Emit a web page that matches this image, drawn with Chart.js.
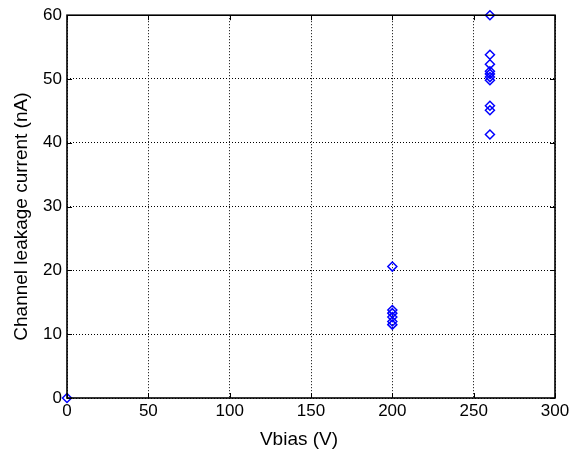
<!DOCTYPE html>
<html>
<head>
<meta charset="utf-8">
<script src="https://cdn.jsdelivr.net/npm/chart.js@4"></script>
<style>
  html, body { margin: 0; padding: 0; background: #fff; }
  #wrap { width: 585px; height: 453px; }
</style>
</head>
<body>
<div id="wrap"><canvas id="leak"></canvas></div>
<script>
// bias voltage (V) and channel leakage current (nA)
const vbias0 = [0];
const leak0 = [0];
const vbias200 = [200, 200, 200, 200, 200, 200];
const leak200 = [20.6, 13.8, 13.3, 12.7, 12.0, 11.5];
const vbias260 = [260, 260, 260, 260, 260, 260, 260, 260, 260, 260];
const leak260 = [60, 53.8, 52.3, 51.2, 50.8, 50.3, 49.8, 45.8, 45.1, 41.3];

const xTicks = [0, 50, 100, 150, 200, 250, 300];
const yTicks = [0, 10, 20, 30, 40, 50, 60];

const xTitle = 'Vbias (V)';
const yTitle = 'Channel leakage current (nA)';

function toPts(xs, ys) {
  return xs.map((x, i) => ({ x: x, y: ys[i] }));
}
const allPts = toPts(vbias0, leak0)
  .concat(toPts(vbias200, leak200))
  .concat(toPts(vbias260, leak260));

const fontFam = '"Liberation Sans", Arial, sans-serif';

// box around the axes, little inward ticks like matlab, and the axis labels
const boxPlugin = {
  id: 'boxPlugin',
  afterDraw(chart) {
    const { ctx, chartArea: a, scales } = chart;
    ctx.save();
    ctx.strokeStyle = '#000';
    ctx.lineWidth = 1;
    ctx.setLineDash([]);
    ctx.beginPath();
    xTicks.forEach(t => {
      const px = Math.round(scales.x.getPixelForValue(t)) + 0.5;
      ctx.moveTo(px, a.bottom); ctx.lineTo(px, a.bottom - 5);
      ctx.moveTo(px, a.top); ctx.lineTo(px, a.top + 5);
    });
    yTicks.forEach(t => {
      const py = Math.round(scales.y.getPixelForValue(t)) + 0.5;
      ctx.moveTo(a.left, py); ctx.lineTo(a.left + 5, py);
      ctx.moveTo(a.right, py); ctx.lineTo(a.right - 5, py);
    });
    ctx.stroke();
    ctx.lineWidth = 1.6;
    ctx.strokeRect(a.left, a.top, a.right - a.left, a.bottom - a.top);

    ctx.fillStyle = '#000';
    ctx.font = '19px ' + fontFam;
    ctx.textAlign = 'center';
    ctx.textBaseline = 'middle';
    ctx.fillText(xTitle, (a.left + a.right) / 2 - 12, 440);
    ctx.translate(22, (a.top + a.bottom) / 2 + 10);
    ctx.rotate(-Math.PI / 2);
    ctx.fillText(yTitle, 0, 0);
    ctx.restore();
  }
};

new Chart(document.getElementById('leak'), {
  type: 'scatter',
  data: {
    datasets: [{
      label: 'leakage',
      data: allPts,
      pointStyle: 'rectRot',
      pointRadius: 4.5,
      pointBorderWidth: 1.5,
      borderColor: '#0000ff',
      backgroundColor: 'rgba(0,0,0,0)'
    }]
  },
  options: {
    responsive: true,
    maintainAspectRatio: false,
    animation: false,
    clip: false,
    layout: { padding: { top: 12, right: 30, left: 0, bottom: 0 } },
    plugins: {
      legend: { display: false },
      tooltip: { enabled: false }
    },
    scales: {
      x: {
        type: 'linear',
        min: 0, max: 300,
        afterBuildTicks: s => { s.ticks = xTicks.map(v => ({ value: v })); },
        afterFit: s => { s.height = 55; },
        grid: { color: '#000', lineWidth: 1, drawTicks: false },
        border: { display: false, dash: [1, 2] },
        ticks: { color: '#000', padding: 3, font: { family: fontFam, size: 17 } }
      },
      y: {
        type: 'linear',
        min: 0, max: 60,
        afterBuildTicks: s => { s.ticks = yTicks.map(v => ({ value: v })); },
        afterFit: s => { s.width = 67; },
        grid: { color: '#000', lineWidth: 1, drawTicks: false },
        border: { display: false, dash: [1, 2] },
        ticks: { color: '#000', padding: 5, font: { family: fontFam, size: 17 } }
      }
    }
  },
  plugins: [boxPlugin]
});
</script>
</body>
</html>
